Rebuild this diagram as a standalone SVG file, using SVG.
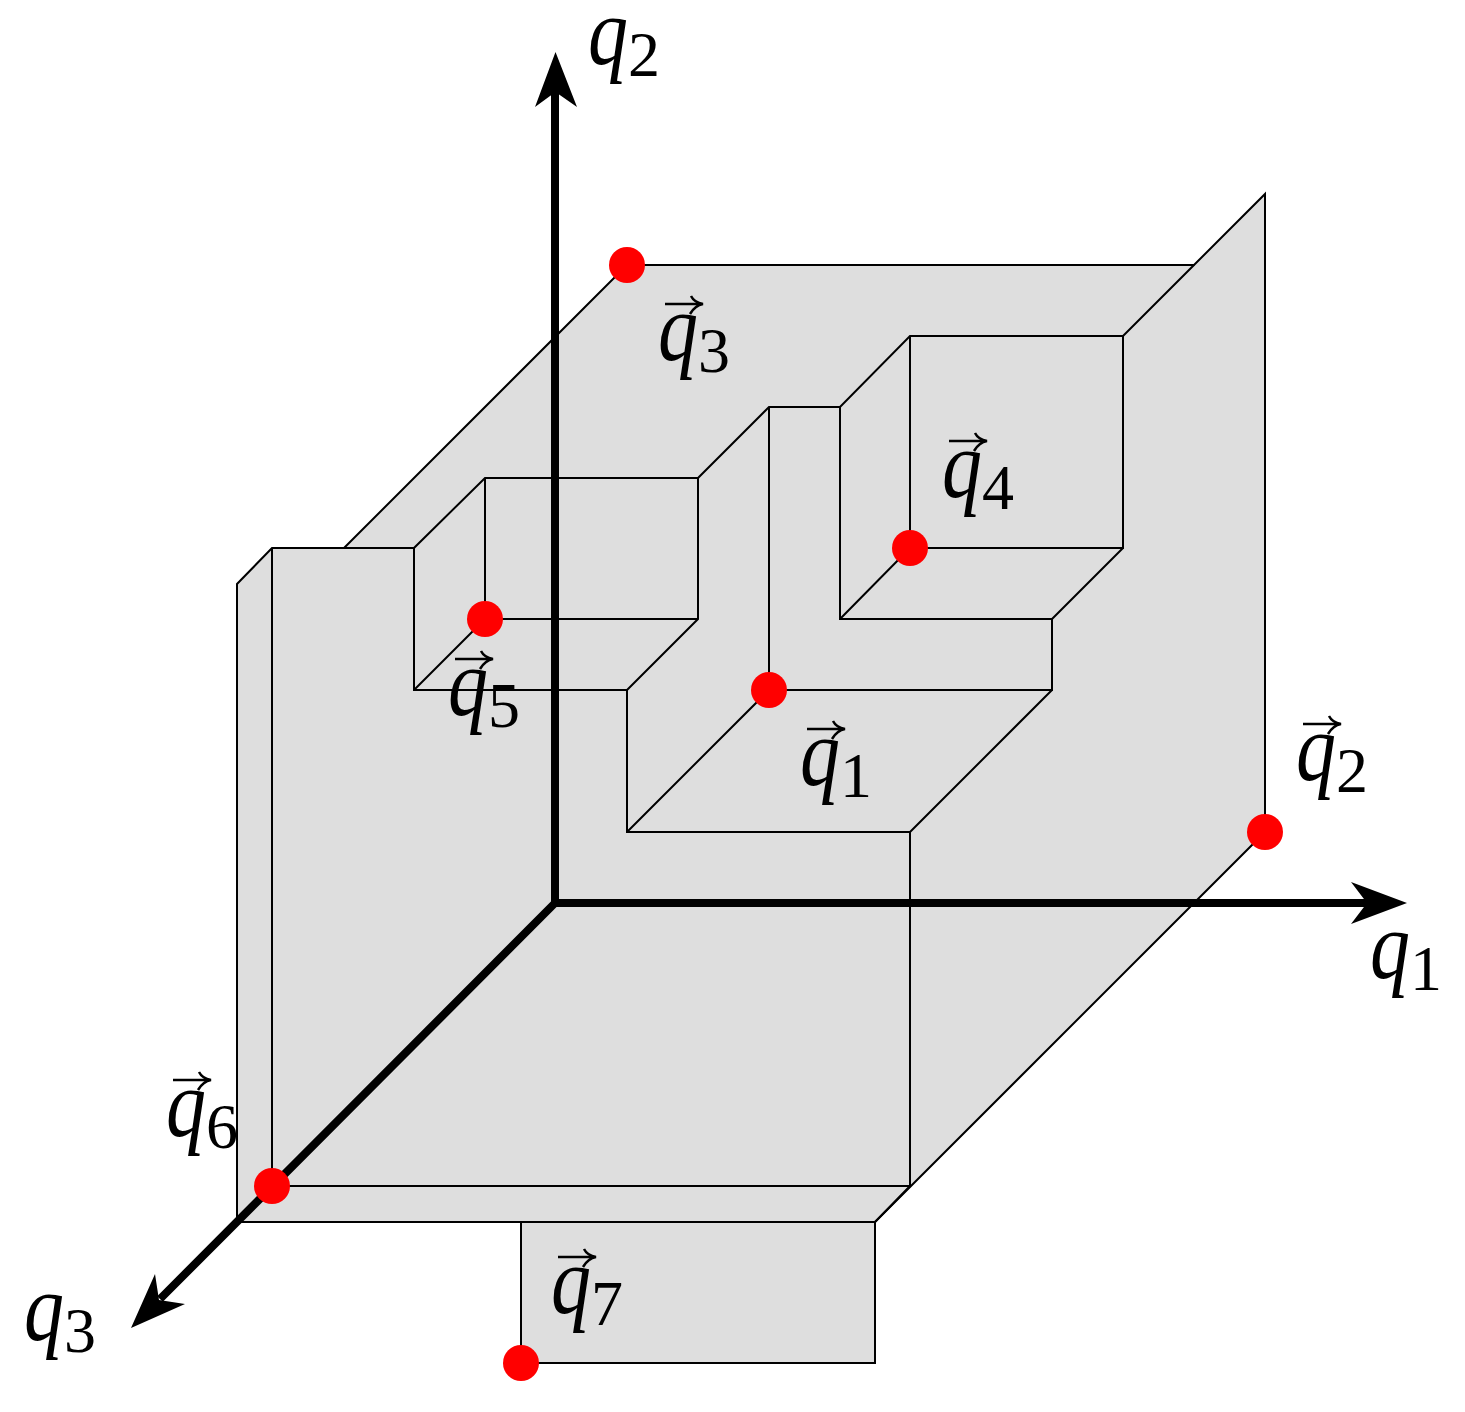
<svg xmlns="http://www.w3.org/2000/svg" width="1465" height="1412" viewBox="0 0 1465 1412">
<style>
.e{fill:none;stroke:#000;stroke-width:2;stroke-linejoin:miter}
.d{fill:#f00}
.ax{stroke:#000;stroke-width:8;fill:none}
.h{fill:#000}
text{font-family:"Liberation Serif","Times New Roman",serif;fill:#000}
.q{font-style:italic;font-size:96px}
.n{font-size:64px}
.v{fill:none;stroke:#000;stroke-width:2.500}
</style>
<defs>
<g id="vec"><path class="v" d="M5-13H42M31-21C33-17 37-14 43-13C37-12 33-8 30-3"/></g>
</defs>
<rect width="1465" height="1412" fill="#fff"/>
<g id="surface">
<path fill="#dedede" d="M627 265H1194L1265 194V832L875 1222V1363H521V1222H237V584L272 548H344Z"/>
</g>
<g id="connectors">
<path class="e" d="M344 548L627 265H1194L1265 194V832L875 1222H237V584L272 548H414"/>
<path class="e" d="M272 548V1186H910V832H627V690H414V548L485 478H698V619L627 690"/>
<path class="e" d="M485 478V619H698M485 619L414 690"/>
<path class="e" d="M698 478L769 407H840L910 336H1123L1194 265"/>
<path class="e" d="M769 407V690H1052V619H840V407"/>
<path class="e" d="M910 336V548H1123V336M1123 548L1052 619M910 548L840 619"/>
<path class="e" d="M769 690L627 832M1052 690L910 832M910 1186L875 1222"/>
<path class="e" d="M521 1222V1363H875V1222"/>
</g>
<g id="axes">
<path class="ax" d="M555 907V90M551 903H1370M555 903L160 1299"/>
<path class="h" d="M555.500 52L577 107L555.500 92L535 107Z"/>
<path class="h" d="M1407 903L1351 882L1367 903L1351 924Z"/>
<path class="h" d="M131 1328L155 1274L159 1300L185 1304Z"/>
</g>
<g id="p1"><circle class="d" cx="769" cy="690" r="18"/></g>
<g id="p2"><circle class="d" cx="1265" cy="832" r="18"/></g>
<g id="p3"><circle class="d" cx="627" cy="265" r="18"/></g>
<g id="p4"><circle class="d" cx="910" cy="548" r="18"/></g>
<g id="p5"><circle class="d" cx="485" cy="619" r="18"/></g>
<g id="p6"><circle class="d" cx="272" cy="1186" r="18"/></g>
<g id="p7"><circle class="d" cx="521" cy="1363" r="18"/></g>
<g id="labels">
<text transform="translate(1372 978)"><tspan class="q" x="-2" y="0" textLength="40" lengthAdjust="spacingAndGlyphs">q</tspan><tspan class="n" x="38" y="12">1</tspan></text>
<text transform="translate(590 64)"><tspan class="q" x="-2" y="0" textLength="40" lengthAdjust="spacingAndGlyphs">q</tspan><tspan class="n" x="38" y="12">2</tspan></text>
<text transform="translate(26 1340)"><tspan class="q" x="-2" y="0" textLength="40" lengthAdjust="spacingAndGlyphs">q</tspan><tspan class="n" x="38" y="12">3</tspan></text>
<g transform="translate(802 785)"><use href="#vec" y="-43"/><text><tspan class="q" x="-2" y="0" textLength="40" lengthAdjust="spacingAndGlyphs">q</tspan><tspan class="n" x="38" y="12">1</tspan></text></g>
<g transform="translate(1298 780)"><use href="#vec" y="-43"/><text><tspan class="q" x="-2" y="0" textLength="40" lengthAdjust="spacingAndGlyphs">q</tspan><tspan class="n" x="38" y="12">2</tspan></text></g>
<g transform="translate(660 360)"><use href="#vec" y="-43"/><text><tspan class="q" x="-2" y="0" textLength="40" lengthAdjust="spacingAndGlyphs">q</tspan><tspan class="n" x="38" y="12">3</tspan></text></g>
<g transform="translate(944 497)"><use href="#vec" y="-43"/><text><tspan class="q" x="-2" y="0" textLength="40" lengthAdjust="spacingAndGlyphs">q</tspan><tspan class="n" x="38" y="12">4</tspan></text></g>
<g transform="translate(450 715)"><use href="#vec" y="-43"/><text><tspan class="q" x="-2" y="0" textLength="40" lengthAdjust="spacingAndGlyphs">q</tspan><tspan class="n" x="38" y="12">5</tspan></text></g>
<g transform="translate(168 1136)"><use href="#vec" y="-43"/><text><tspan class="q" x="-2" y="0" textLength="40" lengthAdjust="spacingAndGlyphs">q</tspan><tspan class="n" x="38" y="12">6</tspan></text></g>
<g transform="translate(553 1313)"><use href="#vec" y="-43"/><text><tspan class="q" x="-2" y="0" textLength="40" lengthAdjust="spacingAndGlyphs">q</tspan><tspan class="n" x="38" y="12">7</tspan></text></g>
</g>
</svg>
